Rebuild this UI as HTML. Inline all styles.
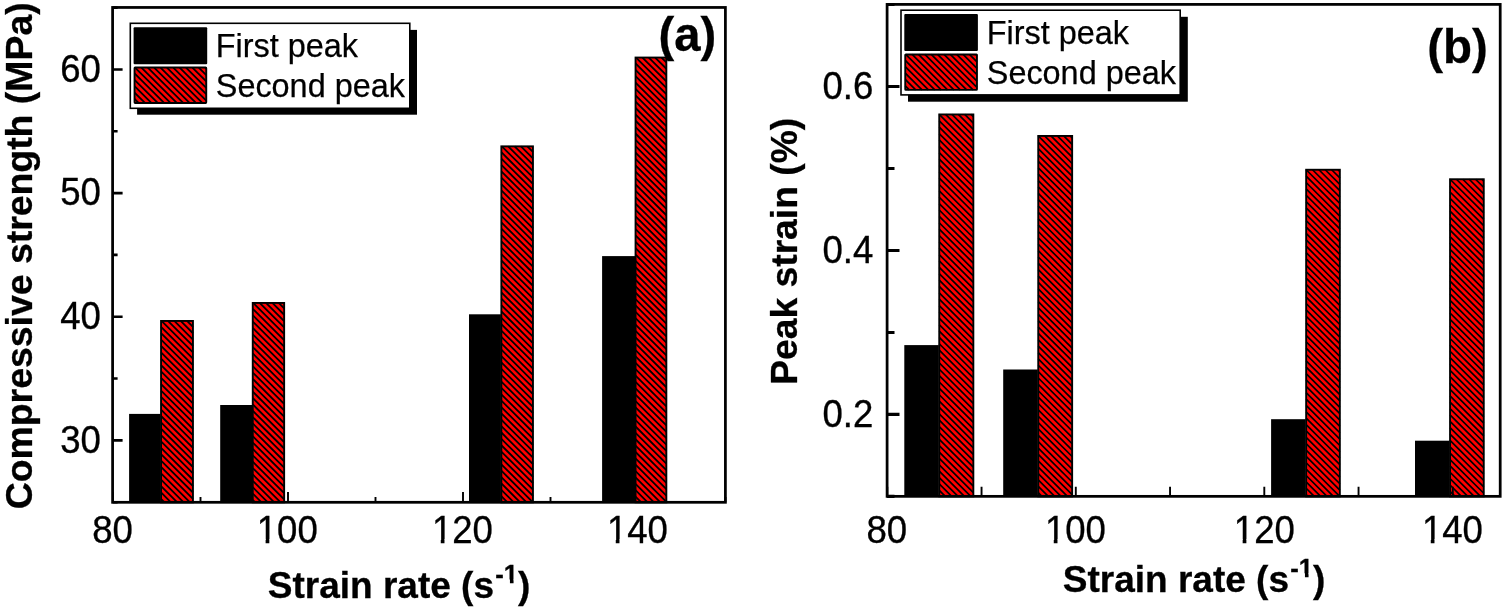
<!DOCTYPE html>
<html lang="en"><head><meta charset="utf-8"><title>Compressive strength and peak strain versus strain rate</title>
<style>
html,body{margin:0;padding:0;background:#fff;}
body{width:1502px;height:612px;overflow:hidden;}
svg{display:block;}
text{font-family:"Liberation Sans", Arial, Helvetica, sans-serif;fill:#000;}
.t{font-size:38.9px;text-anchor:end;stroke:#000;stroke-width:0.35px;}
.lg{font-size:32.4px;stroke:#000;stroke-width:0.25px;}
.b{font-weight:bold;font-size:37px;stroke:#000;stroke-width:0.3px;}
.sup{font-size:25.6px;}
.tag{font-weight:bold;stroke:#000;stroke-width:0.3px;}
.ax{stroke:#000;stroke-width:2.75;fill:none;}
.tk{stroke:#000;fill:none;}
.rf{fill:#f00;}
.hl{stroke:#000;stroke-width:1.8;fill:none;}
.rb{fill:none;stroke:#000;stroke-width:1.9;}
.m{fill:#fff;}
</style></head><body>
<svg width="1502" height="612" viewBox="0 0 1502 612">
<rect width="1502" height="612" fill="#fff"/>
<g>
<path class="tk" stroke-width="1.9" d="M113,502.3 v-10.3 M288,502.3 v-10.3 M463,502.3 v-10.3 M638,502.3 v-10.3 M200.5,502.3 v-5.2 M375.5,502.3 v-5.2 M550.5,502.3 v-5.2 M725.5,502.3 v-5.2"/>
<path class="tk" stroke-width="2.6" d="M112.6,440.4 h10 M112.6,316.75 h10 M112.6,193.1 h10 M112.6,69.45 h10 M112.6,502.22 h5 M112.6,378.57 h5 M112.6,254.92 h5 M112.6,131.27 h5 M112.6,7.62 h5"/>
<rect x="129.1" y="413.9" width="31.5" height="88.4" fill="#000"/>
<rect class="rf" x="161.05" y="320.95" width="31.9" height="181.35"/>
<path class="hl" d="M187.03,320.95L192.95,326.87M180.66,320.95L192.95,333.24M174.29,320.95L192.95,339.61M167.92,320.95L192.95,345.98M161.55,320.95L192.95,352.35M161.05,326.82L192.95,358.72M161.05,333.19L192.95,365.09M161.05,339.56L192.95,371.46M161.05,345.93L192.95,377.83M161.05,352.3L192.95,384.2M161.05,358.67L192.95,390.57M161.05,365.04L192.95,396.94M161.05,371.41L192.95,403.31M161.05,377.78L192.95,409.68M161.05,384.15L192.95,416.05M161.05,390.52L192.95,422.42M161.05,396.89L192.95,428.79M161.05,403.26L192.95,435.16M161.05,409.63L192.95,441.53M161.05,416L192.95,447.9M161.05,422.37L192.95,454.27M161.05,428.74L192.95,460.64M161.05,435.11L192.95,467.01M161.05,441.48L192.95,473.38M161.05,447.85L192.95,479.75M161.05,454.22L192.95,486.12M161.05,460.59L192.95,492.49M161.05,466.96L192.95,498.86M161.05,473.33L190.02,502.3M161.05,479.7L183.65,502.3M161.05,486.07L177.28,502.3M161.05,492.44L170.91,502.3M161.05,498.81L164.54,502.3"/>
<rect class="rb" x="161.05" y="320.95" width="31.9" height="181.35"/>
<rect x="220.2" y="405" width="32.1" height="97.3" fill="#000"/>
<rect class="rf" x="252.75" y="302.95" width="31.4" height="199.35"/>
<path class="hl" d="M278.73,302.95L284.15,308.37M272.36,302.95L284.15,314.74M265.99,302.95L284.15,321.11M259.62,302.95L284.15,327.48M253.25,302.95L284.15,333.85M252.75,308.82L284.15,340.22M252.75,315.19L284.15,346.59M252.75,321.56L284.15,352.96M252.75,327.93L284.15,359.33M252.75,334.3L284.15,365.7M252.75,340.67L284.15,372.07M252.75,347.04L284.15,378.44M252.75,353.41L284.15,384.81M252.75,359.78L284.15,391.18M252.75,366.15L284.15,397.55M252.75,372.52L284.15,403.92M252.75,378.89L284.15,410.29M252.75,385.26L284.15,416.66M252.75,391.63L284.15,423.03M252.75,398L284.15,429.4M252.75,404.37L284.15,435.77M252.75,410.74L284.15,442.14M252.75,417.11L284.15,448.51M252.75,423.48L284.15,454.88M252.75,429.85L284.15,461.25M252.75,436.22L284.15,467.62M252.75,442.59L284.15,473.99M252.75,448.96L284.15,480.36M252.75,455.33L284.15,486.73M252.75,461.7L284.15,493.1M252.75,468.07L284.15,499.47M252.75,474.44L280.61,502.3M252.75,480.81L274.24,502.3M252.75,487.18L267.87,502.3M252.75,493.55L261.5,502.3M252.75,499.92L255.13,502.3"/>
<rect class="rb" x="252.75" y="302.95" width="31.4" height="199.35"/>
<rect x="469" y="314.3" width="31.9" height="188" fill="#000"/>
<rect class="rf" x="501.35" y="146.35" width="31.6" height="355.95"/>
<path class="hl" d="M527.33,146.35L532.95,151.97M520.96,146.35L532.95,158.34M514.59,146.35L532.95,164.71M508.22,146.35L532.95,171.08M501.85,146.35L532.95,177.45M501.35,152.22L532.95,183.82M501.35,158.59L532.95,190.19M501.35,164.96L532.95,196.56M501.35,171.33L532.95,202.93M501.35,177.7L532.95,209.3M501.35,184.07L532.95,215.67M501.35,190.44L532.95,222.04M501.35,196.81L532.95,228.41M501.35,203.18L532.95,234.78M501.35,209.55L532.95,241.15M501.35,215.92L532.95,247.52M501.35,222.29L532.95,253.89M501.35,228.66L532.95,260.26M501.35,235.03L532.95,266.63M501.35,241.4L532.95,273M501.35,247.77L532.95,279.37M501.35,254.14L532.95,285.74M501.35,260.51L532.95,292.11M501.35,266.88L532.95,298.48M501.35,273.25L532.95,304.85M501.35,279.62L532.95,311.22M501.35,285.99L532.95,317.59M501.35,292.36L532.95,323.96M501.35,298.73L532.95,330.33M501.35,305.1L532.95,336.7M501.35,311.47L532.95,343.07M501.35,317.84L532.95,349.44M501.35,324.21L532.95,355.81M501.35,330.58L532.95,362.18M501.35,336.95L532.95,368.55M501.35,343.32L532.95,374.92M501.35,349.69L532.95,381.29M501.35,356.06L532.95,387.66M501.35,362.43L532.95,394.03M501.35,368.8L532.95,400.4M501.35,375.17L532.95,406.77M501.35,381.54L532.95,413.14M501.35,387.91L532.95,419.51M501.35,394.28L532.95,425.88M501.35,400.65L532.95,432.25M501.35,407.02L532.95,438.62M501.35,413.39L532.95,444.99M501.35,419.76L532.95,451.36M501.35,426.13L532.95,457.73M501.35,432.5L532.95,464.1M501.35,438.87L532.95,470.47M501.35,445.24L532.95,476.84M501.35,451.61L532.95,483.21M501.35,457.98L532.95,489.58M501.35,464.35L532.95,495.95M501.35,470.72L532.93,502.3M501.35,477.09L526.56,502.3M501.35,483.46L520.19,502.3M501.35,489.83L513.82,502.3M501.35,496.2L507.45,502.3"/>
<rect class="rb" x="501.35" y="146.35" width="31.6" height="355.95"/>
<rect x="602.1" y="256.1" width="33" height="246.2" fill="#000"/>
<rect class="rf" x="635.55" y="57.55" width="30.8" height="444.75"/>
<path class="hl" d="M661.53,57.55L666.35,62.37M655.16,57.55L666.35,68.74M648.79,57.55L666.35,75.11M642.42,57.55L666.35,81.48M636.05,57.55L666.35,87.85M635.55,63.42L666.35,94.22M635.55,69.79L666.35,100.59M635.55,76.16L666.35,106.96M635.55,82.53L666.35,113.33M635.55,88.9L666.35,119.7M635.55,95.27L666.35,126.07M635.55,101.64L666.35,132.44M635.55,108.01L666.35,138.81M635.55,114.38L666.35,145.18M635.55,120.75L666.35,151.55M635.55,127.12L666.35,157.92M635.55,133.49L666.35,164.29M635.55,139.86L666.35,170.66M635.55,146.23L666.35,177.03M635.55,152.6L666.35,183.4M635.55,158.97L666.35,189.77M635.55,165.34L666.35,196.14M635.55,171.71L666.35,202.51M635.55,178.08L666.35,208.88M635.55,184.45L666.35,215.25M635.55,190.82L666.35,221.62M635.55,197.19L666.35,227.99M635.55,203.56L666.35,234.36M635.55,209.93L666.35,240.73M635.55,216.3L666.35,247.1M635.55,222.67L666.35,253.47M635.55,229.04L666.35,259.84M635.55,235.41L666.35,266.21M635.55,241.78L666.35,272.58M635.55,248.15L666.35,278.95M635.55,254.52L666.35,285.32M635.55,260.89L666.35,291.69M635.55,267.26L666.35,298.06M635.55,273.63L666.35,304.43M635.55,280L666.35,310.8M635.55,286.37L666.35,317.17M635.55,292.74L666.35,323.54M635.55,299.11L666.35,329.91M635.55,305.48L666.35,336.28M635.55,311.85L666.35,342.65M635.55,318.22L666.35,349.02M635.55,324.59L666.35,355.39M635.55,330.96L666.35,361.76M635.55,337.33L666.35,368.13M635.55,343.7L666.35,374.5M635.55,350.07L666.35,380.87M635.55,356.44L666.35,387.24M635.55,362.81L666.35,393.61M635.55,369.18L666.35,399.98M635.55,375.55L666.35,406.35M635.55,381.92L666.35,412.72M635.55,388.29L666.35,419.09M635.55,394.66L666.35,425.46M635.55,401.03L666.35,431.83M635.55,407.4L666.35,438.2M635.55,413.77L666.35,444.57M635.55,420.14L666.35,450.94M635.55,426.51L666.35,457.31M635.55,432.88L666.35,463.68M635.55,439.25L666.35,470.05M635.55,445.62L666.35,476.42M635.55,451.99L666.35,482.79M635.55,458.36L666.35,489.16M635.55,464.73L666.35,495.53M635.55,471.1L666.35,501.9M635.55,477.47L660.38,502.3M635.55,483.84L654.01,502.3M635.55,490.21L647.64,502.3M635.55,496.58L641.27,502.3"/>
<rect class="rb" x="635.55" y="57.55" width="30.8" height="444.75"/>
<rect class="ax" x="112.6" y="7.45" width="612.8" height="494.85"/>
<rect x="137.1" y="29.9" width="279.9" height="84.8" fill="#000"/>
<rect x="130.3" y="23.3" width="279.5" height="85" fill="#fff" stroke="#000" stroke-width="1.6"/>
<rect x="133.6" y="27.2" width="73.6" height="37" rx="1" fill="#000"/>
<rect class="rf" x="134.55" y="67.55" width="71.7" height="35.4"/>
<path class="hl" d="M205.12,67.55L206.25,68.68M198.75,67.55L206.25,75.05M192.38,67.55L206.25,81.42M186.01,67.55L206.25,87.79M179.64,67.55L206.25,94.16M173.27,67.55L206.25,100.53M166.9,67.55L202.3,102.95M160.53,67.55L195.93,102.95M154.16,67.55L189.56,102.95M147.79,67.55L183.19,102.95M141.42,67.55L176.82,102.95M135.05,67.55L170.45,102.95M134.55,73.42L164.08,102.95M134.55,79.79L157.71,102.95M134.55,86.16L151.34,102.95M134.55,92.53L144.97,102.95M134.55,98.9L138.6,102.95"/>
<rect class="rb" x="134.55" y="67.55" width="71.7" height="35.4" rx="0.6"/>
<text class="lg" x="215.8" y="57.1">First peak</text>
<text class="lg" x="215.8" y="97.4">Second peak</text>
<text class="t" transform="translate(132.9 542.6) scale(0.94 1)">80</text>
<text class="t" transform="translate(317.75 542.6) scale(0.94 1)">100</text>
<rect class="m" x="257.83" y="539.25" width="7.78" height="4.85"/>
<rect class="m" x="269.33" y="539.25" width="7.77" height="4.85"/>
<text class="t" transform="translate(492.9 542.6) scale(0.94 1)">120</text>
<rect class="m" x="432.98" y="539.25" width="7.78" height="4.85"/>
<rect class="m" x="444.48" y="539.25" width="7.77" height="4.85"/>
<text class="t" transform="translate(667.9 542.6) scale(0.94 1)">140</text>
<rect class="m" x="607.98" y="539.25" width="7.78" height="4.85"/>
<rect class="m" x="619.48" y="539.25" width="7.77" height="4.85"/>
<text class="t" transform="translate(100.85 452.65) scale(0.94 1)">30</text>
<text class="t" transform="translate(100.85 328.95) scale(0.94 1)">40</text>
<text class="t" transform="translate(100.85 205.25) scale(0.94 1)">50</text>
<text class="t" transform="translate(100.85 81.55) scale(0.94 1)">60</text>
<text class="b" text-anchor="middle" style="font-size:36.4px" transform="translate(32.1 255.85) rotate(-90) scale(1.0277 1)">Compressive strength (MPa)</text>
<text class="b" x="267.8" y="598.1">Strain rate (s<tspan class="sup" dx="1.2" dy="-15">-1</tspan><tspan dy="15">)</tspan></text>
<rect class="m" x="504.49" y="579.52" width="5.45" height="5.18"/>
<rect class="m" x="513.55" y="579.52" width="4.48" height="5.18"/>
<text class="tag" style="font-size:47.2px" x="658.5" y="51.4">(a)</text>
</g>
<g>
<rect x="904.3" y="345.1" width="34.5" height="151.25" fill="#000"/>
<rect class="rf" x="939.25" y="114.45" width="34.1" height="381.9"/>
<path class="hl" style="stroke-width:1.7" d="M971.1,114.45L973.35,116.7M964.73,114.45L973.35,123.07M958.36,114.45L973.35,129.44M951.99,114.45L973.35,135.81M945.62,114.45L973.35,142.18M939.25,114.45L973.35,148.55M939.25,120.82L973.35,154.92M939.25,127.19L973.35,161.29M939.25,133.56L973.35,167.66M939.25,139.93L973.35,174.03M939.25,146.3L973.35,180.4M939.25,152.67L973.35,186.77M939.25,159.04L973.35,193.14M939.25,165.41L973.35,199.51M939.25,171.78L973.35,205.88M939.25,178.15L973.35,212.25M939.25,184.52L973.35,218.62M939.25,190.89L973.35,224.99M939.25,197.26L973.35,231.36M939.25,203.63L973.35,237.73M939.25,210L973.35,244.1M939.25,216.37L973.35,250.47M939.25,222.74L973.35,256.84M939.25,229.11L973.35,263.21M939.25,235.48L973.35,269.58M939.25,241.85L973.35,275.95M939.25,248.22L973.35,282.32M939.25,254.59L973.35,288.69M939.25,260.96L973.35,295.06M939.25,267.33L973.35,301.43M939.25,273.7L973.35,307.8M939.25,280.07L973.35,314.17M939.25,286.44L973.35,320.54M939.25,292.81L973.35,326.91M939.25,299.18L973.35,333.28M939.25,305.55L973.35,339.65M939.25,311.92L973.35,346.02M939.25,318.29L973.35,352.39M939.25,324.66L973.35,358.76M939.25,331.03L973.35,365.13M939.25,337.4L973.35,371.5M939.25,343.77L973.35,377.87M939.25,350.14L973.35,384.24M939.25,356.51L973.35,390.61M939.25,362.88L973.35,396.98M939.25,369.25L973.35,403.35M939.25,375.62L973.35,409.72M939.25,381.99L973.35,416.09M939.25,388.36L973.35,422.46M939.25,394.73L973.35,428.83M939.25,401.1L973.35,435.2M939.25,407.47L973.35,441.57M939.25,413.84L973.35,447.94M939.25,420.21L973.35,454.31M939.25,426.58L973.35,460.68M939.25,432.95L973.35,467.05M939.25,439.32L973.35,473.42M939.25,445.69L973.35,479.79M939.25,452.06L973.35,486.16M939.25,458.43L973.35,492.53M939.25,464.8L970.8,496.35M939.25,471.17L964.43,496.35M939.25,477.54L958.06,496.35M939.25,483.91L951.69,496.35M939.25,490.28L945.32,496.35"/>
<rect class="rb" x="939.25" y="114.45" width="34.1" height="381.9"/>
<rect x="1003.2" y="369.5" width="34.6" height="126.85" fill="#000"/>
<rect class="rf" x="1038.25" y="135.95" width="33.9" height="360.4"/>
<path class="hl" style="stroke-width:1.7" d="M1070.1,135.95L1072.15,138M1063.73,135.95L1072.15,144.37M1057.36,135.95L1072.15,150.74M1050.99,135.95L1072.15,157.11M1044.62,135.95L1072.15,163.48M1038.25,135.95L1072.15,169.85M1038.25,142.32L1072.15,176.22M1038.25,148.69L1072.15,182.59M1038.25,155.06L1072.15,188.96M1038.25,161.43L1072.15,195.33M1038.25,167.8L1072.15,201.7M1038.25,174.17L1072.15,208.07M1038.25,180.54L1072.15,214.44M1038.25,186.91L1072.15,220.81M1038.25,193.28L1072.15,227.18M1038.25,199.65L1072.15,233.55M1038.25,206.02L1072.15,239.92M1038.25,212.39L1072.15,246.29M1038.25,218.76L1072.15,252.66M1038.25,225.13L1072.15,259.03M1038.25,231.5L1072.15,265.4M1038.25,237.87L1072.15,271.77M1038.25,244.24L1072.15,278.14M1038.25,250.61L1072.15,284.51M1038.25,256.98L1072.15,290.88M1038.25,263.35L1072.15,297.25M1038.25,269.72L1072.15,303.62M1038.25,276.09L1072.15,309.99M1038.25,282.46L1072.15,316.36M1038.25,288.83L1072.15,322.73M1038.25,295.2L1072.15,329.1M1038.25,301.57L1072.15,335.47M1038.25,307.94L1072.15,341.84M1038.25,314.31L1072.15,348.21M1038.25,320.68L1072.15,354.58M1038.25,327.05L1072.15,360.95M1038.25,333.42L1072.15,367.32M1038.25,339.79L1072.15,373.69M1038.25,346.16L1072.15,380.06M1038.25,352.53L1072.15,386.43M1038.25,358.9L1072.15,392.8M1038.25,365.27L1072.15,399.17M1038.25,371.64L1072.15,405.54M1038.25,378.01L1072.15,411.91M1038.25,384.38L1072.15,418.28M1038.25,390.75L1072.15,424.65M1038.25,397.12L1072.15,431.02M1038.25,403.49L1072.15,437.39M1038.25,409.86L1072.15,443.76M1038.25,416.23L1072.15,450.13M1038.25,422.6L1072.15,456.5M1038.25,428.97L1072.15,462.87M1038.25,435.34L1072.15,469.24M1038.25,441.71L1072.15,475.61M1038.25,448.08L1072.15,481.98M1038.25,454.45L1072.15,488.35M1038.25,460.82L1072.15,494.72M1038.25,467.19L1067.41,496.35M1038.25,473.56L1061.04,496.35M1038.25,479.93L1054.67,496.35M1038.25,486.3L1048.3,496.35M1038.25,492.67L1041.93,496.35"/>
<rect class="rb" x="1038.25" y="135.95" width="33.9" height="360.4"/>
<rect x="1271.1" y="419.2" width="34.6" height="77.15" fill="#000"/>
<rect class="rf" x="1306.15" y="169.75" width="33.7" height="326.6"/>
<path class="hl" style="stroke-width:1.7" d="M1338,169.75L1339.85,171.6M1331.63,169.75L1339.85,177.97M1325.26,169.75L1339.85,184.34M1318.89,169.75L1339.85,190.71M1312.52,169.75L1339.85,197.08M1306.15,169.75L1339.85,203.45M1306.15,176.12L1339.85,209.82M1306.15,182.49L1339.85,216.19M1306.15,188.86L1339.85,222.56M1306.15,195.23L1339.85,228.93M1306.15,201.6L1339.85,235.3M1306.15,207.97L1339.85,241.67M1306.15,214.34L1339.85,248.04M1306.15,220.71L1339.85,254.41M1306.15,227.08L1339.85,260.78M1306.15,233.45L1339.85,267.15M1306.15,239.82L1339.85,273.52M1306.15,246.19L1339.85,279.89M1306.15,252.56L1339.85,286.26M1306.15,258.93L1339.85,292.63M1306.15,265.3L1339.85,299M1306.15,271.67L1339.85,305.37M1306.15,278.04L1339.85,311.74M1306.15,284.41L1339.85,318.11M1306.15,290.78L1339.85,324.48M1306.15,297.15L1339.85,330.85M1306.15,303.52L1339.85,337.22M1306.15,309.89L1339.85,343.59M1306.15,316.26L1339.85,349.96M1306.15,322.63L1339.85,356.33M1306.15,329L1339.85,362.7M1306.15,335.37L1339.85,369.07M1306.15,341.74L1339.85,375.44M1306.15,348.11L1339.85,381.81M1306.15,354.48L1339.85,388.18M1306.15,360.85L1339.85,394.55M1306.15,367.22L1339.85,400.92M1306.15,373.59L1339.85,407.29M1306.15,379.96L1339.85,413.66M1306.15,386.33L1339.85,420.03M1306.15,392.7L1339.85,426.4M1306.15,399.07L1339.85,432.77M1306.15,405.44L1339.85,439.14M1306.15,411.81L1339.85,445.51M1306.15,418.18L1339.85,451.88M1306.15,424.55L1339.85,458.25M1306.15,430.92L1339.85,464.62M1306.15,437.29L1339.85,470.99M1306.15,443.66L1339.85,477.36M1306.15,450.03L1339.85,483.73M1306.15,456.4L1339.85,490.1M1306.15,462.77L1339.73,496.35M1306.15,469.14L1333.36,496.35M1306.15,475.51L1326.99,496.35M1306.15,481.88L1320.62,496.35M1306.15,488.25L1314.25,496.35M1306.15,494.62L1307.88,496.35"/>
<rect class="rb" x="1306.15" y="169.75" width="33.7" height="326.6"/>
<rect x="1415" y="440.7" width="34.6" height="55.65" fill="#000"/>
<rect class="rf" x="1450.05" y="179.25" width="33.7" height="317.1"/>
<path class="hl" style="stroke-width:1.7" d="M1481.9,179.25L1483.75,181.1M1475.53,179.25L1483.75,187.47M1469.16,179.25L1483.75,193.84M1462.79,179.25L1483.75,200.21M1456.42,179.25L1483.75,206.58M1450.05,179.25L1483.75,212.95M1450.05,185.62L1483.75,219.32M1450.05,191.99L1483.75,225.69M1450.05,198.36L1483.75,232.06M1450.05,204.73L1483.75,238.43M1450.05,211.1L1483.75,244.8M1450.05,217.47L1483.75,251.17M1450.05,223.84L1483.75,257.54M1450.05,230.21L1483.75,263.91M1450.05,236.58L1483.75,270.28M1450.05,242.95L1483.75,276.65M1450.05,249.32L1483.75,283.02M1450.05,255.69L1483.75,289.39M1450.05,262.06L1483.75,295.76M1450.05,268.43L1483.75,302.13M1450.05,274.8L1483.75,308.5M1450.05,281.17L1483.75,314.87M1450.05,287.54L1483.75,321.24M1450.05,293.91L1483.75,327.61M1450.05,300.28L1483.75,333.98M1450.05,306.65L1483.75,340.35M1450.05,313.02L1483.75,346.72M1450.05,319.39L1483.75,353.09M1450.05,325.76L1483.75,359.46M1450.05,332.13L1483.75,365.83M1450.05,338.5L1483.75,372.2M1450.05,344.87L1483.75,378.57M1450.05,351.24L1483.75,384.94M1450.05,357.61L1483.75,391.31M1450.05,363.98L1483.75,397.68M1450.05,370.35L1483.75,404.05M1450.05,376.72L1483.75,410.42M1450.05,383.09L1483.75,416.79M1450.05,389.46L1483.75,423.16M1450.05,395.83L1483.75,429.53M1450.05,402.2L1483.75,435.9M1450.05,408.57L1483.75,442.27M1450.05,414.94L1483.75,448.64M1450.05,421.31L1483.75,455.01M1450.05,427.68L1483.75,461.38M1450.05,434.05L1483.75,467.75M1450.05,440.42L1483.75,474.12M1450.05,446.79L1483.75,480.49M1450.05,453.16L1483.75,486.86M1450.05,459.53L1483.75,493.23M1450.05,465.9L1480.5,496.35M1450.05,472.27L1474.13,496.35M1450.05,478.64L1467.76,496.35M1450.05,485.01L1461.39,496.35M1450.05,491.38L1455.02,496.35"/>
<rect class="rb" x="1450.05" y="179.25" width="33.7" height="317.1"/>
<path class="tk" stroke-width="1.9" d="M887.3,496.35 v-9.7 M1075.8,496.35 v-9.7 M1264.3,496.35 v-9.7 M1452.8,496.35 v-9.7 M981.55,496.35 v-9.7 M1170.05,496.35 v-9.7 M1358.55,496.35 v-9.7"/>
<path class="tk" stroke-width="3.1" d="M887.1,414.42 h12.4 M887.1,250.45 h12.4 M887.1,86.48 h12.4 M887.1,496.4 h7.4 M887.1,332.43 h7.4 M887.1,168.47 h7.4 M887.1,4.5 h7.4"/>
<rect class="ax" x="887.1" y="4.4" width="613.1" height="491.95"/>
<rect x="908" y="16.8" width="279.8" height="84.9" fill="#000"/>
<rect x="901" y="10.2" width="279.2" height="84.7" fill="#fff" stroke="#000" stroke-width="1.6"/>
<rect x="904.3" y="14.1" width="73.6" height="37" rx="1" fill="#000"/>
<rect class="rf" x="905.25" y="54.45" width="71.7" height="35.4"/>
<path class="hl" style="stroke-width:1.7" d="M975.82,54.45L976.95,55.58M969.45,54.45L976.95,61.95M963.08,54.45L976.95,68.32M956.71,54.45L976.95,74.69M950.34,54.45L976.95,81.06M943.97,54.45L976.95,87.43M937.6,54.45L973,89.85M931.23,54.45L966.63,89.85M924.86,54.45L960.26,89.85M918.49,54.45L953.89,89.85M912.12,54.45L947.52,89.85M905.75,54.45L941.15,89.85M905.25,60.32L934.78,89.85M905.25,66.69L928.41,89.85M905.25,73.06L922.04,89.85M905.25,79.43L915.67,89.85M905.25,85.8L909.3,89.85"/>
<rect class="rb" x="905.25" y="54.45" width="71.7" height="35.4" rx="0.6"/>
<text class="lg" x="986.8" y="44">First peak</text>
<text class="lg" x="986.8" y="84.3">Second peak</text>
<text class="t" transform="translate(907.15 542.6) scale(0.94 1)">80</text>
<text class="t" transform="translate(1105.9 542.6) scale(0.94 1)">100</text>
<rect class="m" x="1045.98" y="539.25" width="7.78" height="4.85"/>
<rect class="m" x="1057.48" y="539.25" width="7.77" height="4.85"/>
<text class="t" transform="translate(1294.8 542.6) scale(0.94 1)">120</text>
<rect class="m" x="1234.88" y="539.25" width="7.78" height="4.85"/>
<rect class="m" x="1246.38" y="539.25" width="7.77" height="4.85"/>
<text class="t" transform="translate(1482.9 542.6) scale(0.94 1)">140</text>
<rect class="m" x="1422.98" y="539.25" width="7.78" height="4.85"/>
<rect class="m" x="1434.48" y="539.25" width="7.77" height="4.85"/>
<text class="t" transform="translate(873.3 426.8) scale(0.94 1)">0.2</text>
<text class="t" transform="translate(873.3 262.8) scale(0.94 1)">0.4</text>
<text class="t" transform="translate(873.3 98.8) scale(0.94 1)">0.6</text>
<text class="b" text-anchor="middle" style="font-size:36.4px" transform="translate(797.1 251.3) rotate(-90) scale(1.0230 1)">Peak strain (%)</text>
<text class="b" x="1062.8" y="591.9">Strain rate (s<tspan class="sup" dx="1.2" dy="-15">-1</tspan><tspan dy="15">)</tspan></text>
<rect class="m" x="1299.49" y="573.32" width="5.45" height="5.18"/>
<rect class="m" x="1308.55" y="573.32" width="4.48" height="5.18"/>
<text class="tag" style="font-size:47.5px" x="1427.2" y="62.9">(b)</text>
</g>
</svg>
</body></html>
